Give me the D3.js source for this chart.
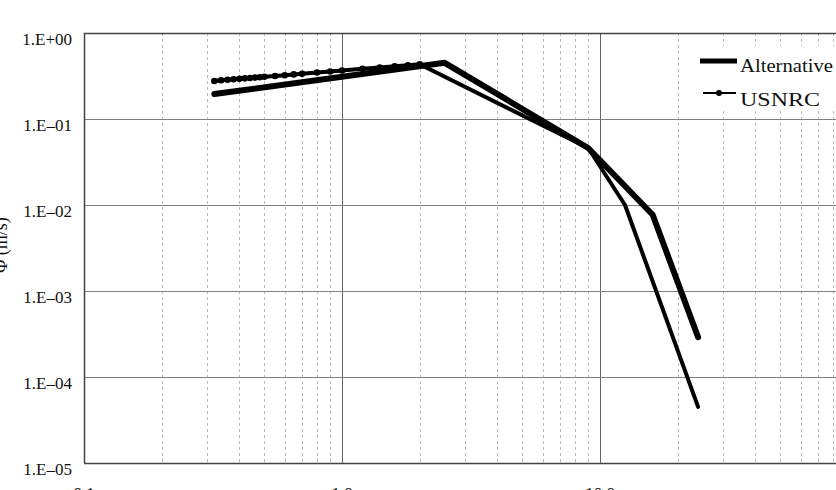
<!DOCTYPE html>
<html>
<head>
<meta charset="utf-8">
<script src="https://cdn.jsdelivr.net/npm/d3@7"></script>
<style>
  body { margin: 0; background: #fff; }
  text { font-family: 'Liberation Serif', 'Times New Roman', serif; fill: #111; }
</style>
</head>
<body>
<svg id="chart" width="836" height="490"></svg>
<script>
'use strict'

// axis ticks
const xTicks = [0.1, 1, 10]
const xTickLabels = ['0.1', '1.0', '10.0']
const yTicks = [1, 0.1, 0.01, 0.001, 0.0001, 0.00001]
const yTickLabels = ['1.E+00', '1.E–01', '1.E–02', '1.E–03', '1.E–04', '1.E–05']

// Alternative series
const altFreq = [0.32, 2.5, 9.0, 16, 24]
const altPhi = [0.195, 0.45, 0.046, 0.0077, 0.00029]

// USNRC series
const usnrcFreq = [0.32, 0.34, 0.36, 0.38, 0.40, 0.42, 0.44, 0.46, 0.48, 0.50, 0.55, 0.60, 0.65, 0.70,
  0.80, 0.90, 1.0, 1.2, 1.4, 1.6, 1.8, 2.0, 9.0, 12.5, 24]
const usnrcPhi = [0.277, 0.282, 0.286, 0.290, 0.293, 0.297, 0.300, 0.303, 0.306, 0.310, 0.316, 0.323, 0.330, 0.335,
  0.347, 0.357, 0.366, 0.383, 0.397, 0.410, 0.422, 0.433, 0.046, 0.010, 0.000045]
const usnrcDotCount = 22

const seriesNames = ['Alternative', 'USNRC']

const svg = d3.select('#chart')
const plotLeft = 84
const plotTop = 33
const plotBottom = 463

const x = d3.scaleLog()
  .domain([0.1, 100])
  .range([plotLeft, 858])
const y = d3.scaleLog()
  .domain([0.00001, 1])
  .range([plotBottom, plotTop])

// vertical grid: minor dashed, decades solid
const grid = svg.append('g').attr('class', 'grid')
grid.selectAll('.vminor')
  .data(x.ticks().filter(function (d) { return Math.abs(Math.log10(d) - Math.round(Math.log10(d))) > 1e-6 }))
  .enter()
  .append('line')
  .attr('class', 'vminor')
  .attr('x1', function (d) { return Math.round(x(d)) + 0.5 })
  .attr('x2', function (d) { return Math.round(x(d)) + 0.5 })
  .attr('y1', plotTop)
  .attr('y2', plotBottom)
  .attr('stroke', '#bbbbbb')
  .attr('stroke-dasharray', '3,3')
grid.selectAll('.vmajor')
  .data(xTicks.slice(1))
  .enter()
  .append('line')
  .attr('class', 'vmajor')
  .attr('x1', function (d) { return Math.round(x(d)) + 0.5 })
  .attr('x2', function (d) { return Math.round(x(d)) + 0.5 })
  .attr('y1', plotTop)
  .attr('y2', plotBottom)
  .attr('stroke', '#666666')
grid.selectAll('.hmajor')
  .data(yTicks)
  .enter()
  .append('line')
  .attr('class', 'hmajor')
  .attr('x1', plotLeft)
  .attr('x2', 836)
  .attr('y1', function (d) { return Math.round(y(d)) + 0.5 })
  .attr('y2', function (d) { return Math.round(y(d)) + 0.5 })
  .attr('stroke', function (d) { return d === 1 || d === 0.00001 ? '#444444' : '#808080' })
  .attr('stroke-width', function (d) { return d === 1 || d === 0.00001 ? 1.5 : 1 })
svg.append('line')
  .attr('x1', plotLeft + 0.5)
  .attr('x2', plotLeft + 0.5)
  .attr('y1', plotTop)
  .attr('y2', plotBottom)
  .attr('stroke', '#444444')
  .attr('stroke-width', 1.5)

// tick labels
svg.selectAll('.ylabel')
  .data(yTicks)
  .enter()
  .append('text')
  .attr('class', 'ylabel')
  .attr('x', 72)
  .attr('y', function (d) { return y(d) + 12 })
  .attr('text-anchor', 'end')
  .attr('font-size', 17)
  .text(function (d, i) { return yTickLabels[i] })
svg.selectAll('.xlabel')
  .data(xTicks)
  .enter()
  .append('text')
  .attr('class', 'xlabel')
  .attr('x', function (d) { return x(d) })
  .attr('y', 499)
  .attr('text-anchor', 'middle')
  .attr('font-size', 17)
  .text(function (d, i) { return xTickLabels[i] })

svg.append('text')
  .attr('transform', 'translate(7,245) rotate(-90)')
  .attr('text-anchor', 'middle')
  .attr('font-size', 18)
  .text('Φ (m/s)')

// series
const line = d3.line()
  .x(function (d) { return x(d[0]) })
  .y(function (d) { return y(d[1]) })

const altData = d3.zip(altFreq, altPhi)
const usnrcData = d3.zip(usnrcFreq, usnrcPhi)

svg.append('path')
  .datum(usnrcData)
  .attr('d', line)
  .attr('fill', 'none')
  .attr('stroke', '#000')
  .attr('stroke-width', 4)
  .attr('stroke-linejoin', 'round')
  .attr('stroke-linecap', 'round')
svg.selectAll('.dot')
  .data(usnrcData.slice(0, usnrcDotCount))
  .enter()
  .append('circle')
  .attr('class', 'dot')
  .attr('cx', function (d) { return x(d[0]) })
  .attr('cy', function (d) { return y(d[1]) })
  .attr('r', 3.3)
  .attr('fill', '#000')
svg.append('path')
  .datum(altData)
  .attr('d', line)
  .attr('fill', 'none')
  .attr('stroke', '#000')
  .attr('stroke-width', 6)
  .attr('stroke-linejoin', 'round')
  .attr('stroke-linecap', 'round')

// legend
const legend = svg.append('g').attr('class', 'legend')
legend.append('rect')
  .attr('x', 695)
  .attr('y', 46)
  .attr('width', 141)
  .attr('height', 64)
  .attr('fill', '#fff')
legend.append('line')
  .attr('x1', 700).attr('x2', 737)
  .attr('y1', 61).attr('y2', 61)
  .attr('stroke', '#000')
  .attr('stroke-width', 5)
legend.append('line')
  .attr('x1', 703).attr('x2', 736)
  .attr('y1', 93).attr('y2', 93)
  .attr('stroke', '#000')
  .attr('stroke-width', 2)
legend.append('circle')
  .attr('cx', 719).attr('cy', 93)
  .attr('r', 3)
  .attr('fill', '#000')
legend.selectAll('.ltext')
  .data(seriesNames)
  .enter()
  .append('text')
  .attr('class', 'ltext')
  .attr('x', 740)
  .attr('y', function (d, i) { return 72 + i * 34 })
  .attr('font-size', 19)
  .attr('textLength', function (d, i) { return i === 0 ? 93 : 80 })
  .attr('lengthAdjust', 'spacingAndGlyphs')
  .text(function (d) { return d })
</script>
</body>
</html>
